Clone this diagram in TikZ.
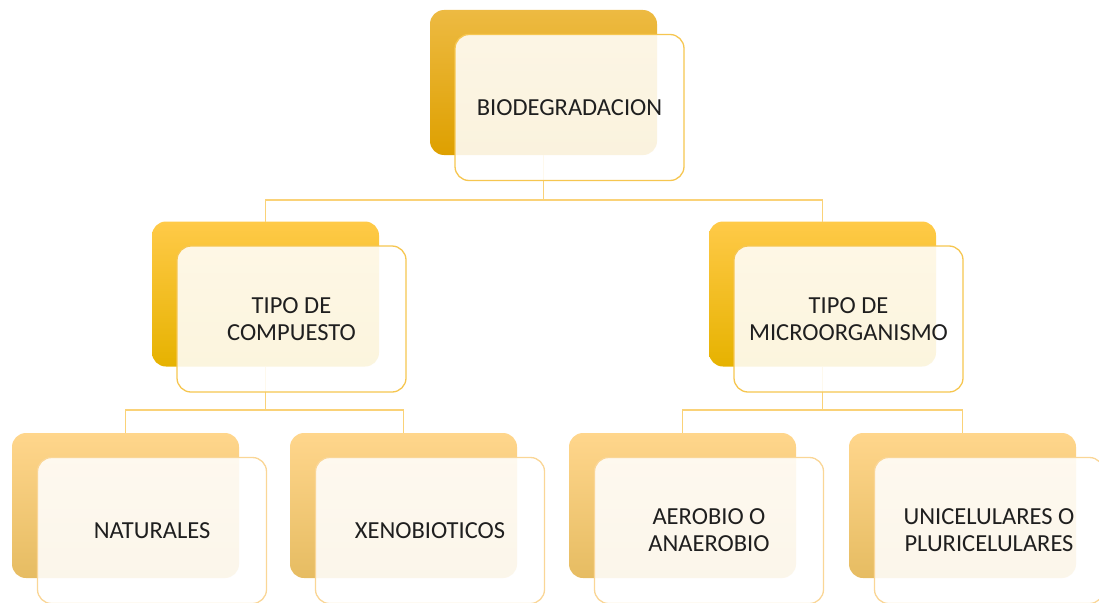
\documentclass[tikz,border=0pt]{standalone}
\usepackage{fontspec}
\setmainfont{Carlito}
\usepackage{tikz}
\usetikzlibrary{calc}

\definecolor{goldtop}{RGB}{237,186,66}
\definecolor{goldbot}{RGB}{222,160,0}
\definecolor{ambertop}{RGB}{255,202,72}
\definecolor{amberbot}{RGB}{230,178,0}
\definecolor{sandtop}{RGB}{255,214,140}
\definecolor{sandbot}{RGB}{230,188,98}
\definecolor{goldline}{RGB}{246,198,80}
\definecolor{sandline}{RGB}{250,214,150}
\definecolor{linkcol}{RGB}{250,210,120}

\begin{document}
\begin{tikzpicture}[x=1pt, y=-1pt, font=\fontsize{24.5}{27}\selectfont,
backbox/.style={rounded corners=14pt, minimum width=227pt, minimum height=145pt,
  inner sep=0pt, outer sep=0pt},
frontbox/.style={rounded corners=14pt, minimum width=229pt, minimum height=146pt,
  inner sep=0pt, outer sep=0pt, fill=white, fill opacity=0.87, text opacity=1,
  line width=1.3pt, align=center, text=black!88},
link/.style={draw=linkcol, line width=1.8pt}
]
    \useasboundingbox (0,0) rectangle (1099,602);

    % junction points
    \coordinate (j0) at (543.5,200);
    \coordinate (j1) at (265.5,410);
    \coordinate (j2) at (822.5,410);

    % back boxes
    \node (b0) at (543.5,82.5) [backbox, top color=goldtop, bottom color=goldbot] {};
    \node (b1) at (265.5,294) [backbox, top color=ambertop, bottom color=amberbot] {};
    \node (b2) at (822.5,294) [backbox, top color=ambertop, bottom color=amberbot] {};
    \node (b3) at (125.5,505.5) [backbox, top color=sandtop, bottom color=sandbot] {};
    \node (b4) at (403.5,505.5) [backbox, top color=sandtop, bottom color=sandbot] {};
    \node (b5) at (682.5,505.5) [backbox, top color=sandtop, bottom color=sandbot] {};
    \node (b6) at (962.5,505.5) [backbox, top color=sandtop, bottom color=sandbot] {};

    % connectors
    \draw [link] (b0.south) -- (j0) -| (b1.north);
    \draw [link] (j0) -| (b2.north);
    \draw [link] (b1.south) -- (j1) -| (b3.north);
    \draw [link] (j1) -| (b4.north);
    \draw [link] (b2.south) -- (j2) -| (b5.north);
    \draw [link] (j2) -| (b6.north);

    % front boxes
    \node (f0) at ($(b0.center)+(26,25)$) [frontbox, draw=goldline] {BIODEGRADACION};
    \node (f1) at ($(b1.center)+(26,25)$) [frontbox, draw=goldline] {TIPO DE\\COMPUESTO};
    \node (f2) at ($(b2.center)+(26,25)$) [frontbox, draw=goldline] {TIPO DE\\MICROORGANISMO};
    \node (f3) at ($(b3.center)+(26.5,25)$) [frontbox, draw=sandline] {NATURALES};
    \node (f4) at ($(b4.center)+(26.5,25)$) [frontbox, draw=sandline] {XENOBIOTICOS};
    \node (f5) at ($(b5.center)+(26.5,25)$) [frontbox, draw=sandline] {AEROBIO O\\ANAEROBIO};
    \node (f6) at ($(b6.center)+(26.5,25)$) [frontbox, draw=sandline] {UNICELULARES O\\PLURICELULARES};

\end{tikzpicture}
\end{document}
